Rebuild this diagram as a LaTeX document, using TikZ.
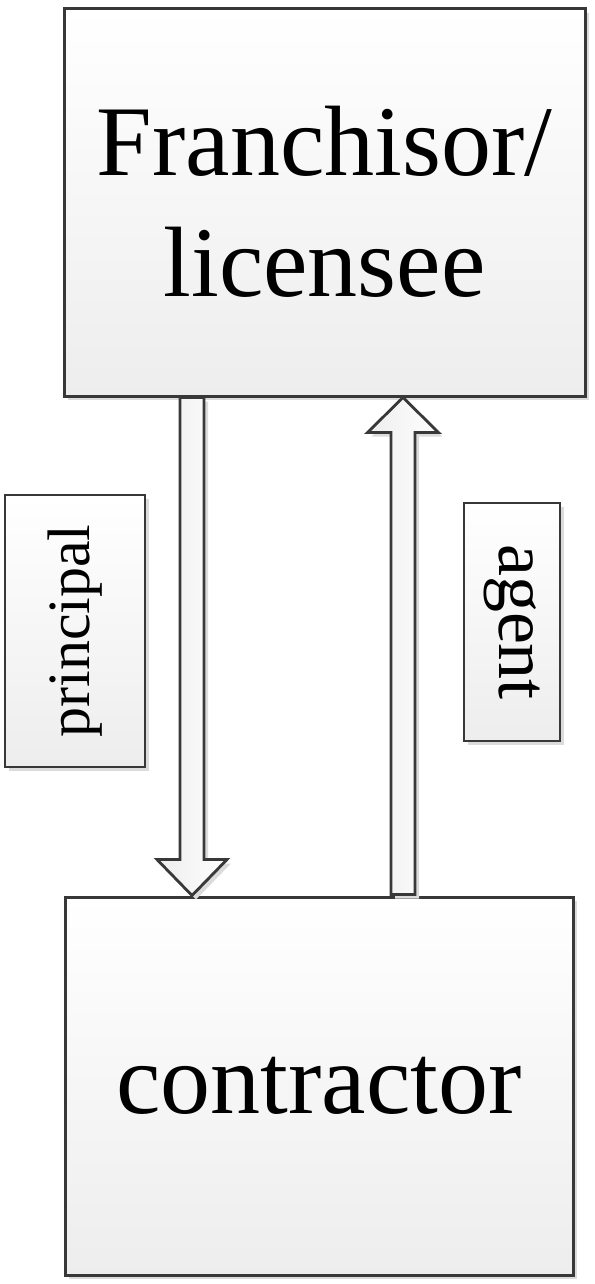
\documentclass[tikz,border=0pt]{standalone}
\usepackage{fontspec}
\setmainfont{Liberation Serif}
\usetikzlibrary{positioning,calc,shadows}
\tikzset{
    block/.style={
        draw=black!78,
        rectangle,
        line width=3pt,
        top color=white,
        bottom color=black!7,
        inner sep=0pt,
        drop shadow={shadow xshift=4pt, shadow yshift=-4pt, fill=black!14, opacity=1}
    },
    tag/.style={
        block,
        line width=2.6pt
    },
    blockarrow/.style={
        draw=black!78,
        line width=2.8pt,
        line join=miter,
        left color=black!7,
        right color=white,
        drop shadow={shadow xshift=4pt, shadow yshift=-4pt, fill=black!14, opacity=1}
    }
}

\begin{document}
\begin{tikzpicture}[x=1pt,y=1pt]
  \useasboundingbox (0,0) rectangle (594,-1284);

  % Define the two parties
  \node[block, minimum width=521pt, minimum height=387pt, align=center,
        font=\fontsize{100}{121}\selectfont] (franchisor) at (324.5,-202.5) {\raisebox{3pt}{Franchisor/}\\\raisebox{3pt}{licensee}};
  \node[block, minimum width=508pt, minimum height=378pt,
        font=\fontsize{100}{121}\selectfont] (contractor) at (319,-1086) {contractor};

  % Columns of the two block arrows
  \coordinate (downx) at (192,0);
  \coordinate (upx) at (403,0);

  % Principal arrow: franchisor to contractor
  \draw[blockarrow] ($(franchisor.south -| downx)+(-12,0)$)
    -- ($(contractor.north -| downx)+(-12,36)$) -- ++(-23,0)
    -- (contractor.north -| downx) -- ++(35,36) -- ++(-23,0)
    -- ($(franchisor.south -| downx)+(12,0)$) -- cycle;

  % Agent arrow: contractor to franchisor
  \draw[blockarrow] ($(contractor.north -| upx)+(-12,1)$)
    -- ($(franchisor.south -| upx)+(-12,-35)$) -- ++(-23.5,0)
    -- (franchisor.south -| upx) -- ++(35.5,-35) -- ++(-23.5,0)
    -- ($(contractor.north -| upx)+(12,1)$) -- cycle;

  % Labels of the roles
  \node[tag, minimum width=140pt, minimum height=272pt] (principalbox) at (75,-631) {};
  \node[rotate=90, font=\fontsize{60}{72}\selectfont] (principal) at (principalbox.center) {principal};
  \node[tag, minimum width=96pt, minimum height=238pt] (agentbox) at (512,-622) {};
  \node[rotate=-90, font=\fontsize{72}{86}\selectfont] (agent) at (agentbox.center) {agent};
\end{tikzpicture}
\end{document}
